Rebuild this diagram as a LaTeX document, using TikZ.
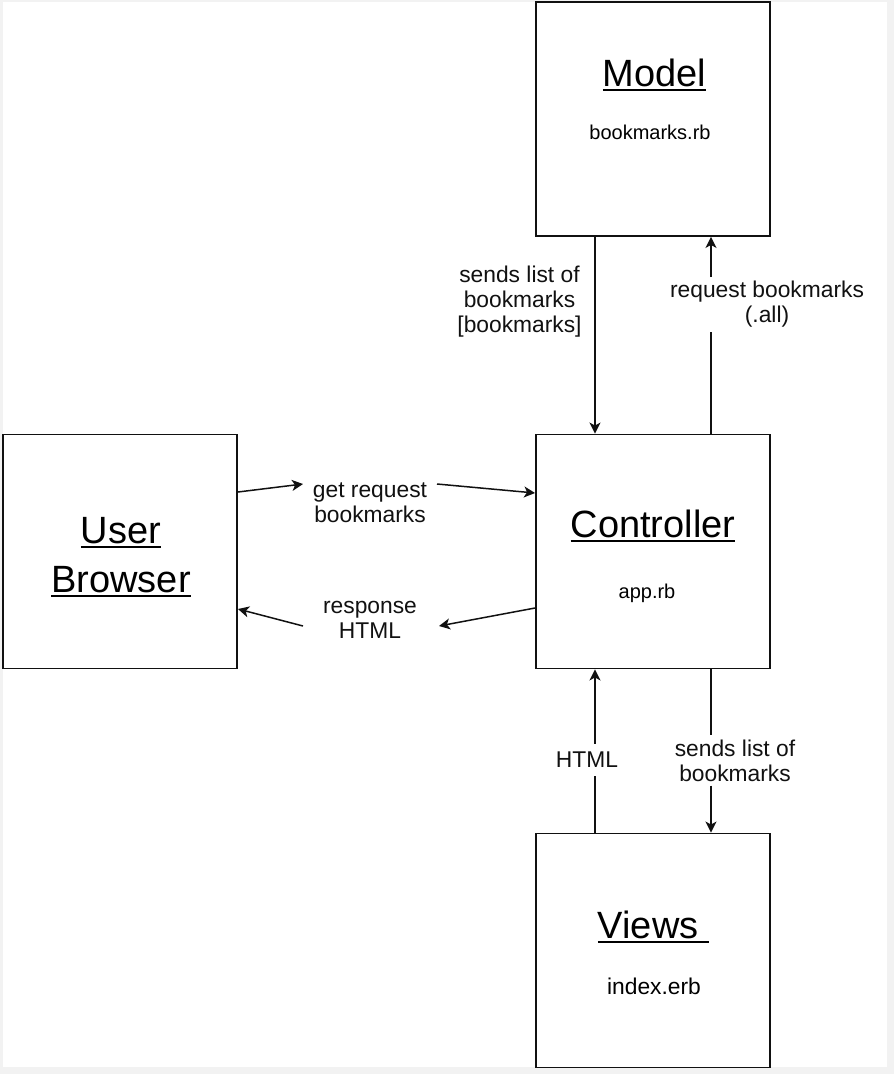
\documentclass[tikz,border=0pt]{standalone}
\usepackage{fontspec}
\setmainfont{Liberation Sans}
\usepackage{xcolor}
\usepackage{tikz}
\usetikzlibrary{calc,arrows.meta,positioning}
\definecolor{mvcInk}{RGB}{17,17,17}
\definecolor{mvcFrame}{RGB}{242,242,242}
\newcommand{\titleline}[1]{\setbox0=\hbox{#1}\rlap{\rule[-5.4pt]{\wd0}{2.5pt}}\box0}
\newcommand{\titlefont}{\fontsize{38}{49}\selectfont}
\newcommand{\labelfont}{\fontsize{22.8}{25}\selectfont}
\newcommand{\filefont}{\fontsize{20}{24}\selectfont}

\begin{document}
\begin{tikzpicture}[x=1pt, y=-1pt,
  box/.style={draw=mvcInk, line width=1.9pt, minimum width=234pt, minimum height=234pt, inner sep=0pt},
  flow/.style={draw=mvcInk, line width=1.5pt, -{Stealth[length=11pt,width=11pt,inset=3pt]}},
  wire/.style={draw=mvcInk, line width=1.5pt},
  lbl/.style={align=center, inner sep=4pt, font=\labelfont, text=mvcInk}]
\useasboundingbox (0,0) rectangle (894,1074);
\fill[mvcFrame] (0,0) rectangle (894,1074);
\fill[white] (3,2) rectangle (887,1067);

\node[box] (model) at (653,119) {};
\node[box] (ctrl) at (653,551.5) {};
\node[box] (browser) at (120,551.5) {};
\node[box] (views) at (653,950.5) {};

\node[anchor=base, font=\titlefont] (modelT) at (654.5,86) {\titleline{Model}};
\node[anchor=base, font=\filefont] (modelF) at (650,139) {bookmarks.rb};
\node[anchor=base, font=\titlefont] (ctrlT) at (653,537) {\titleline{Controller}};
\node[anchor=base, font=\filefont] (ctrlF) at (647,598) {app.rb};
\node[anchor=base, font=\titlefont, align=center] (browserT) at (121,592) {\titleline{User}\\\titleline{Browser}};
\node[anchor=base, font=\titlefont] (viewsT) at (653.5,938) {\titleline{Views\ }};
\node[anchor=base, font=\labelfont] (viewsF) at (654,994) {index.erb};

\node[lbl] (sendsM) at (519.5,302) {sends list of\\bookmarks\\{}[bookmarks]};
\node[lbl] (req) at (767,304.5) {request bookmarks\\(.all)};
\node[lbl] (get) at (370,502.5) {get request\\bookmarks};
\node[lbl] (resp) at (370,619.5) {response\\HTML};
\node[lbl, inner ysep=8pt] (html) at (587,760) {HTML};
\node[lbl] (sendsV) at (735,760.5) {sends list of\\bookmarks};

\coordinate (laneL) at ([xshift=-58pt]ctrl.center);
\coordinate (laneR) at ([xshift=58pt]ctrl.center);
\coordinate (getIn) at (303,484);
\coordinate (getOut) at (437,484);
\coordinate (respIn) at (439,626);
\coordinate (respOut) at (303,626);

\draw[flow] (laneL |- model.south) -- (laneL |- ctrl.north);
\draw[wire] (laneR |- ctrl.north) -- (laneR |- req.south);
\draw[flow] (laneR |- req.north) -- (laneR |- model.south);
\draw[wire] (laneR |- ctrl.south) -- (laneR |- sendsV.north);
\draw[flow] (laneR |- sendsV.south) -- (laneR |- views.north);
\draw[wire] (laneL |- views.north) -- (laneL |- html.south);
\draw[flow] (laneL |- html.north) -- (laneL |- ctrl.south);

\draw[flow] ([yshift=59.5pt]browser.east) -- (getIn);
\draw[flow] (getOut) -- ([yshift=58.5pt]ctrl.west);
\draw[flow] ([yshift=-56.5pt]ctrl.west) -- (respIn);
\draw[flow] (respOut) -- ([yshift=-57.5pt]browser.east);
\end{tikzpicture}
\end{document}
